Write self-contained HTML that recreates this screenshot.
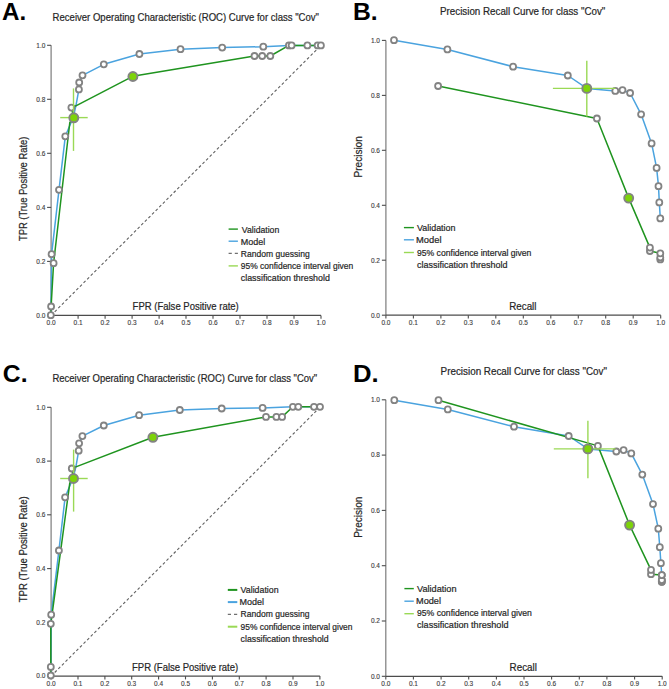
<!DOCTYPE html>
<html><head><meta charset="utf-8"><style>
html,body{margin:0;padding:0;background:#fff;width:669px;height:689px;overflow:hidden}
svg{display:block;font-family:"Liberation Sans", sans-serif}
</style></head><body>
<svg width="669" height="689" viewBox="0 0 669 689">
<rect width="669" height="689" fill="#fff"/>
<text id="t0" x="2.00" y="19.70" font-size="23.7" fill="#000" text-anchor="start" font-weight="bold" textLength="24.19" lengthAdjust="spacingAndGlyphs">A.</text>
<text id="t1" x="52.60" y="21.10" font-size="10.0" fill="#262626" text-anchor="start" font-weight="normal" textLength="266.34" lengthAdjust="spacingAndGlyphs" stroke="#262626" stroke-width="0.2">Receiver Operating Characteristic (ROC) Curve for class &quot;Cov&quot;</text>
<line x1="51.1" y1="315.4" x2="51.1" y2="45.3" stroke="#7c7c7c" stroke-width="1.2"/>
<line x1="47.1" y1="315.4" x2="51.1" y2="315.4" stroke="#4c4c4c" stroke-width="1.1"/>
<text id="t2" x="45.40" y="317.70" font-size="6.5" fill="#3c3c3c" text-anchor="end" font-weight="normal" stroke="#3c3c3c" stroke-width="0.12">0.0</text>
<line x1="47.1" y1="261.4" x2="51.1" y2="261.4" stroke="#4c4c4c" stroke-width="1.1"/>
<text id="t3" x="45.40" y="263.68" font-size="6.5" fill="#3c3c3c" text-anchor="end" font-weight="normal" stroke="#3c3c3c" stroke-width="0.12">0.2</text>
<line x1="47.1" y1="207.4" x2="51.1" y2="207.4" stroke="#4c4c4c" stroke-width="1.1"/>
<text id="t4" x="45.40" y="209.66" font-size="6.5" fill="#3c3c3c" text-anchor="end" font-weight="normal" stroke="#3c3c3c" stroke-width="0.12">0.4</text>
<line x1="47.1" y1="153.3" x2="51.1" y2="153.3" stroke="#4c4c4c" stroke-width="1.1"/>
<text id="t5" x="45.40" y="155.64" font-size="6.5" fill="#3c3c3c" text-anchor="end" font-weight="normal" stroke="#3c3c3c" stroke-width="0.12">0.6</text>
<line x1="47.1" y1="99.3" x2="51.1" y2="99.3" stroke="#4c4c4c" stroke-width="1.1"/>
<text id="t6" x="45.40" y="101.62" font-size="6.5" fill="#3c3c3c" text-anchor="end" font-weight="normal" stroke="#3c3c3c" stroke-width="0.12">0.8</text>
<line x1="47.1" y1="45.3" x2="51.1" y2="45.3" stroke="#4c4c4c" stroke-width="1.1"/>
<text id="t7" x="45.40" y="47.60" font-size="6.5" fill="#3c3c3c" text-anchor="end" font-weight="normal" stroke="#3c3c3c" stroke-width="0.12">1.0</text>
<line x1="51.1" y1="315.4" x2="321.0" y2="315.4" stroke="#4c4c4c" stroke-width="1.2"/>
<line x1="51.1" y1="315.4" x2="51.1" y2="318.7" stroke="#4c4c4c" stroke-width="1.1"/>
<text id="t8" x="51.10" y="325.20" font-size="6.5" fill="#3c3c3c" text-anchor="middle" font-weight="normal" stroke="#3c3c3c" stroke-width="0.12">0.0</text>
<line x1="78.1" y1="315.4" x2="78.1" y2="318.7" stroke="#4c4c4c" stroke-width="1.1"/>
<text id="t9" x="78.09" y="325.20" font-size="6.5" fill="#3c3c3c" text-anchor="middle" font-weight="normal" stroke="#3c3c3c" stroke-width="0.12">0.1</text>
<line x1="105.1" y1="315.4" x2="105.1" y2="318.7" stroke="#4c4c4c" stroke-width="1.1"/>
<text id="t10" x="105.08" y="325.20" font-size="6.5" fill="#3c3c3c" text-anchor="middle" font-weight="normal" stroke="#3c3c3c" stroke-width="0.12">0.2</text>
<line x1="132.1" y1="315.4" x2="132.1" y2="318.7" stroke="#4c4c4c" stroke-width="1.1"/>
<text id="t11" x="132.07" y="325.20" font-size="6.5" fill="#3c3c3c" text-anchor="middle" font-weight="normal" stroke="#3c3c3c" stroke-width="0.12">0.3</text>
<line x1="159.1" y1="315.4" x2="159.1" y2="318.7" stroke="#4c4c4c" stroke-width="1.1"/>
<text id="t12" x="159.06" y="325.20" font-size="6.5" fill="#3c3c3c" text-anchor="middle" font-weight="normal" stroke="#3c3c3c" stroke-width="0.12">0.4</text>
<line x1="186.0" y1="315.4" x2="186.0" y2="318.7" stroke="#4c4c4c" stroke-width="1.1"/>
<text id="t13" x="186.05" y="325.20" font-size="6.5" fill="#3c3c3c" text-anchor="middle" font-weight="normal" stroke="#3c3c3c" stroke-width="0.12">0.5</text>
<line x1="213.0" y1="315.4" x2="213.0" y2="318.7" stroke="#4c4c4c" stroke-width="1.1"/>
<text id="t14" x="213.04" y="325.20" font-size="6.5" fill="#3c3c3c" text-anchor="middle" font-weight="normal" stroke="#3c3c3c" stroke-width="0.12">0.6</text>
<line x1="240.0" y1="315.4" x2="240.0" y2="318.7" stroke="#4c4c4c" stroke-width="1.1"/>
<text id="t15" x="240.03" y="325.20" font-size="6.5" fill="#3c3c3c" text-anchor="middle" font-weight="normal" stroke="#3c3c3c" stroke-width="0.12">0.7</text>
<line x1="267.0" y1="315.4" x2="267.0" y2="318.7" stroke="#4c4c4c" stroke-width="1.1"/>
<text id="t16" x="267.02" y="325.20" font-size="6.5" fill="#3c3c3c" text-anchor="middle" font-weight="normal" stroke="#3c3c3c" stroke-width="0.12">0.8</text>
<line x1="294.0" y1="315.4" x2="294.0" y2="318.7" stroke="#4c4c4c" stroke-width="1.1"/>
<text id="t17" x="294.01" y="325.20" font-size="6.5" fill="#3c3c3c" text-anchor="middle" font-weight="normal" stroke="#3c3c3c" stroke-width="0.12">0.9</text>
<line x1="321.0" y1="315.4" x2="321.0" y2="318.7" stroke="#4c4c4c" stroke-width="1.1"/>
<text id="t18" x="321.00" y="325.20" font-size="6.5" fill="#3c3c3c" text-anchor="middle" font-weight="normal" stroke="#3c3c3c" stroke-width="0.12">1.0</text>
<text id="t19" x="132.60" y="310.10" font-size="10.0" fill="#262626" text-anchor="start" font-weight="normal" textLength="106.20" lengthAdjust="spacingAndGlyphs" stroke="#262626" stroke-width="0.2">FPR (False Positive rate)</text>
<text id="t20" x="26.60" y="241.00" font-size="10.0" fill="#262626" text-anchor="start" font-weight="normal" textLength="104.33" lengthAdjust="spacingAndGlyphs" stroke="#262626" stroke-width="0.2" transform="rotate(-90 26.60 241.00)">TPR (True Positive Rate)</text>
<line x1="51.1" y1="315.4" x2="321" y2="45.3" stroke="#606060" stroke-width="1.1" stroke-dasharray="2.8,2.3"/>
<polyline points="50.8,315.2 51.1,306.5 51.6,254.2 59.0,189.8 65.3,136.3 73.1,117.8 75.9,105.8 78.9,89.4 79.2,82.5 82.5,75.3 103.8,64.3 139.4,54.0 180.5,49.2 222.2,47.6 263.3,46.7 288.9,45.4 291.6,45.4 307.4,45.4 317.6,45.4 320.9,45.4" fill="none" stroke="#4aa3df" stroke-width="1.5" stroke-linejoin="round"/>
<polyline points="50.8,315.2 51.1,306.5 53.6,263.2 69.8,122.5 73.8,117.8 71.4,107.6 75.9,105.8 132.7,76.3 254.5,56.0 262.2,56.0 270.3,56.0 288.9,45.4 291.6,45.4 307.4,45.4 317.6,45.4 320.9,45.4" fill="none" stroke="#1f941f" stroke-width="1.5" stroke-linejoin="round"/>
<circle cx="50.8" cy="315.2" r="3.0" fill="#fff" stroke="#838383" stroke-width="1.8"/>
<circle cx="51.1" cy="306.5" r="3.0" fill="#fff" stroke="#838383" stroke-width="1.8"/>
<circle cx="51.6" cy="254.2" r="3.0" fill="#fff" stroke="#838383" stroke-width="1.8"/>
<circle cx="53.6" cy="263.2" r="3.0" fill="#fff" stroke="#838383" stroke-width="1.8"/>
<circle cx="59.0" cy="189.8" r="3.0" fill="#fff" stroke="#838383" stroke-width="1.8"/>
<circle cx="65.3" cy="136.3" r="3.0" fill="#fff" stroke="#838383" stroke-width="1.8"/>
<circle cx="71.4" cy="107.6" r="3.0" fill="#fff" stroke="#838383" stroke-width="1.8"/>
<circle cx="78.9" cy="89.4" r="3.0" fill="#fff" stroke="#838383" stroke-width="1.8"/>
<circle cx="79.2" cy="82.5" r="3.0" fill="#fff" stroke="#838383" stroke-width="1.8"/>
<circle cx="82.5" cy="75.3" r="3.0" fill="#fff" stroke="#838383" stroke-width="1.8"/>
<circle cx="103.8" cy="64.3" r="3.0" fill="#fff" stroke="#838383" stroke-width="1.8"/>
<circle cx="139.4" cy="54.0" r="3.0" fill="#fff" stroke="#838383" stroke-width="1.8"/>
<circle cx="180.5" cy="49.2" r="3.0" fill="#fff" stroke="#838383" stroke-width="1.8"/>
<circle cx="222.2" cy="47.6" r="3.0" fill="#fff" stroke="#838383" stroke-width="1.8"/>
<circle cx="263.3" cy="46.7" r="3.0" fill="#fff" stroke="#838383" stroke-width="1.8"/>
<circle cx="254.5" cy="56.0" r="3.0" fill="#fff" stroke="#838383" stroke-width="1.8"/>
<circle cx="262.2" cy="56.0" r="3.0" fill="#fff" stroke="#838383" stroke-width="1.8"/>
<circle cx="270.3" cy="56.0" r="3.0" fill="#fff" stroke="#838383" stroke-width="1.8"/>
<circle cx="288.9" cy="45.4" r="3.0" fill="#fff" stroke="#838383" stroke-width="1.8"/>
<circle cx="291.6" cy="45.4" r="3.0" fill="#fff" stroke="#838383" stroke-width="1.8"/>
<circle cx="307.4" cy="45.4" r="3.0" fill="#fff" stroke="#838383" stroke-width="1.8"/>
<circle cx="317.6" cy="45.4" r="3.0" fill="#fff" stroke="#838383" stroke-width="1.8"/>
<circle cx="320.9" cy="45.4" r="3.0" fill="#fff" stroke="#838383" stroke-width="1.8"/>
<line x1="60.2" y1="117.6" x2="87.7" y2="117.6" stroke="#9ad955" stroke-width="1.4"/>
<line x1="73.5" y1="88.4" x2="73.5" y2="150.9" stroke="#9ad955" stroke-width="1.4"/>
<circle cx="73.8" cy="117.8" r="4.5" fill="#7dd30a" stroke="#838383" stroke-width="1.9"/>
<circle cx="132.9" cy="76.5" r="4.5" fill="#7dd30a" stroke="#838383" stroke-width="1.9"/>
<line x1="228.6" y1="229.1" x2="237.9" y2="229.1" stroke="#1f941f" stroke-width="1.4"/>
<line x1="228.6" y1="241.2" x2="237.9" y2="241.2" stroke="#4aa3df" stroke-width="1.4"/>
<line x1="228.6" y1="253.4" x2="237.9" y2="253.4" stroke="#707070" stroke-width="1.4" stroke-dasharray="3.2,3"/>
<line x1="228.6" y1="265.9" x2="237.9" y2="265.9" stroke="#9ad955" stroke-width="1.4"/>
<text id="t21" x="241.80" y="232.70" font-size="8.8" fill="#262626" text-anchor="start" font-weight="normal" textLength="37.48" lengthAdjust="spacingAndGlyphs" stroke="#262626" stroke-width="0.2">Validation</text>
<text id="t22" x="240.80" y="244.70" font-size="8.8" fill="#262626" text-anchor="start" font-weight="normal" textLength="24.47" lengthAdjust="spacingAndGlyphs" stroke="#262626" stroke-width="0.2">Model</text>
<text id="t23" x="240.80" y="256.80" font-size="8.8" fill="#262626" text-anchor="start" font-weight="normal" textLength="68.92" lengthAdjust="spacingAndGlyphs" stroke="#262626" stroke-width="0.2">Random guessing</text>
<text id="t24" x="240.80" y="268.80" font-size="8.8" fill="#262626" text-anchor="start" font-weight="normal" textLength="112.39" lengthAdjust="spacingAndGlyphs" stroke="#262626" stroke-width="0.2">95% confidence interval given</text>
<text id="t25" x="240.80" y="281.30" font-size="8.8" fill="#262626" text-anchor="start" font-weight="normal" textLength="89.02" lengthAdjust="spacingAndGlyphs" stroke="#262626" stroke-width="0.2">classification threshold</text>
<text id="t26" x="353.00" y="20.20" font-size="23.7" fill="#000" text-anchor="start" font-weight="bold" textLength="24.69" lengthAdjust="spacingAndGlyphs">B.</text>
<text id="t27" x="440.00" y="15.20" font-size="10.0" fill="#262626" text-anchor="start" font-weight="normal" textLength="165.33" lengthAdjust="spacingAndGlyphs" stroke="#262626" stroke-width="0.2">Precision Recall Curve for class &quot;Cov&quot;</text>
<line x1="385.9" y1="315.2" x2="385.9" y2="40.4" stroke="#7c7c7c" stroke-width="1.2"/>
<line x1="381.9" y1="315.2" x2="385.9" y2="315.2" stroke="#4c4c4c" stroke-width="1.1"/>
<text id="t28" x="380.00" y="317.50" font-size="6.5" fill="#3c3c3c" text-anchor="end" font-weight="normal" stroke="#3c3c3c" stroke-width="0.12">0.0</text>
<line x1="381.9" y1="260.2" x2="385.9" y2="260.2" stroke="#4c4c4c" stroke-width="1.1"/>
<text id="t29" x="380.00" y="262.54" font-size="6.5" fill="#3c3c3c" text-anchor="end" font-weight="normal" stroke="#3c3c3c" stroke-width="0.12">0.2</text>
<line x1="381.9" y1="205.3" x2="385.9" y2="205.3" stroke="#4c4c4c" stroke-width="1.1"/>
<text id="t30" x="380.00" y="207.58" font-size="6.5" fill="#3c3c3c" text-anchor="end" font-weight="normal" stroke="#3c3c3c" stroke-width="0.12">0.4</text>
<line x1="381.9" y1="150.3" x2="385.9" y2="150.3" stroke="#4c4c4c" stroke-width="1.1"/>
<text id="t31" x="380.00" y="152.62" font-size="6.5" fill="#3c3c3c" text-anchor="end" font-weight="normal" stroke="#3c3c3c" stroke-width="0.12">0.6</text>
<line x1="381.9" y1="95.4" x2="385.9" y2="95.4" stroke="#4c4c4c" stroke-width="1.1"/>
<text id="t32" x="380.00" y="97.66" font-size="6.5" fill="#3c3c3c" text-anchor="end" font-weight="normal" stroke="#3c3c3c" stroke-width="0.12">0.8</text>
<line x1="381.9" y1="40.4" x2="385.9" y2="40.4" stroke="#4c4c4c" stroke-width="1.1"/>
<text id="t33" x="380.00" y="42.70" font-size="6.5" fill="#3c3c3c" text-anchor="end" font-weight="normal" stroke="#3c3c3c" stroke-width="0.12">1.0</text>
<line x1="385.9" y1="315.2" x2="660.7" y2="315.2" stroke="#4c4c4c" stroke-width="1.2"/>
<line x1="385.9" y1="315.2" x2="385.9" y2="318.5" stroke="#4c4c4c" stroke-width="1.1"/>
<text id="t34" x="385.90" y="325.00" font-size="6.5" fill="#3c3c3c" text-anchor="middle" font-weight="normal" stroke="#3c3c3c" stroke-width="0.12">0.0</text>
<line x1="413.4" y1="315.2" x2="413.4" y2="318.5" stroke="#4c4c4c" stroke-width="1.1"/>
<text id="t35" x="413.38" y="325.00" font-size="6.5" fill="#3c3c3c" text-anchor="middle" font-weight="normal" stroke="#3c3c3c" stroke-width="0.12">0.1</text>
<line x1="440.9" y1="315.2" x2="440.9" y2="318.5" stroke="#4c4c4c" stroke-width="1.1"/>
<text id="t36" x="440.86" y="325.00" font-size="6.5" fill="#3c3c3c" text-anchor="middle" font-weight="normal" stroke="#3c3c3c" stroke-width="0.12">0.2</text>
<line x1="468.3" y1="315.2" x2="468.3" y2="318.5" stroke="#4c4c4c" stroke-width="1.1"/>
<text id="t37" x="468.34" y="325.00" font-size="6.5" fill="#3c3c3c" text-anchor="middle" font-weight="normal" stroke="#3c3c3c" stroke-width="0.12">0.3</text>
<line x1="495.8" y1="315.2" x2="495.8" y2="318.5" stroke="#4c4c4c" stroke-width="1.1"/>
<text id="t38" x="495.82" y="325.00" font-size="6.5" fill="#3c3c3c" text-anchor="middle" font-weight="normal" stroke="#3c3c3c" stroke-width="0.12">0.4</text>
<line x1="523.3" y1="315.2" x2="523.3" y2="318.5" stroke="#4c4c4c" stroke-width="1.1"/>
<text id="t39" x="523.30" y="325.00" font-size="6.5" fill="#3c3c3c" text-anchor="middle" font-weight="normal" stroke="#3c3c3c" stroke-width="0.12">0.5</text>
<line x1="550.8" y1="315.2" x2="550.8" y2="318.5" stroke="#4c4c4c" stroke-width="1.1"/>
<text id="t40" x="550.78" y="325.00" font-size="6.5" fill="#3c3c3c" text-anchor="middle" font-weight="normal" stroke="#3c3c3c" stroke-width="0.12">0.6</text>
<line x1="578.3" y1="315.2" x2="578.3" y2="318.5" stroke="#4c4c4c" stroke-width="1.1"/>
<text id="t41" x="578.26" y="325.00" font-size="6.5" fill="#3c3c3c" text-anchor="middle" font-weight="normal" stroke="#3c3c3c" stroke-width="0.12">0.7</text>
<line x1="605.7" y1="315.2" x2="605.7" y2="318.5" stroke="#4c4c4c" stroke-width="1.1"/>
<text id="t42" x="605.74" y="325.00" font-size="6.5" fill="#3c3c3c" text-anchor="middle" font-weight="normal" stroke="#3c3c3c" stroke-width="0.12">0.8</text>
<line x1="633.2" y1="315.2" x2="633.2" y2="318.5" stroke="#4c4c4c" stroke-width="1.1"/>
<text id="t43" x="633.22" y="325.00" font-size="6.5" fill="#3c3c3c" text-anchor="middle" font-weight="normal" stroke="#3c3c3c" stroke-width="0.12">0.9</text>
<line x1="660.7" y1="315.2" x2="660.7" y2="318.5" stroke="#4c4c4c" stroke-width="1.1"/>
<text id="t44" x="660.70" y="325.00" font-size="6.5" fill="#3c3c3c" text-anchor="middle" font-weight="normal" stroke="#3c3c3c" stroke-width="0.12">1.0</text>
<text id="t45" x="509.20" y="309.90" font-size="10.0" fill="#262626" text-anchor="start" font-weight="normal" textLength="27.30" lengthAdjust="spacingAndGlyphs" stroke="#262626" stroke-width="0.2">Recall</text>
<text id="t46" x="361.80" y="177.40" font-size="10.0" fill="#262626" text-anchor="start" font-weight="normal" textLength="41.14" lengthAdjust="spacingAndGlyphs" stroke="#262626" stroke-width="0.2" transform="rotate(-90 361.80 177.40)">Precision</text>
<polyline points="394.0,40.2 447.4,49.4 513.1,66.7 567.8,75.5 586.8,88.4 615.3,90.9 622.5,90.1 630.1,93.0 641.1,114.3 651.6,143.4 656.6,167.9 658.5,186.2 659.3,202.4 660.3,218.4" fill="none" stroke="#4aa3df" stroke-width="1.5" stroke-linejoin="round"/>
<polyline points="438.1,86.0 596.9,118.5 628.7,198.1 649.9,247.6 649.9,251.0 660.3,253.3 660.3,257.5 660.3,259.4" fill="none" stroke="#1f941f" stroke-width="1.5" stroke-linejoin="round"/>
<circle cx="660.3" cy="259.4" r="3.0" fill="#fff" stroke="#838383" stroke-width="1.8"/>
<circle cx="660.3" cy="257.5" r="3.0" fill="#fff" stroke="#838383" stroke-width="1.8"/>
<circle cx="660.3" cy="253.3" r="3.0" fill="#fff" stroke="#838383" stroke-width="1.8"/>
<circle cx="649.9" cy="251.0" r="3.0" fill="#fff" stroke="#838383" stroke-width="1.8"/>
<circle cx="649.9" cy="247.6" r="3.0" fill="#fff" stroke="#838383" stroke-width="1.8"/>
<circle cx="660.3" cy="218.4" r="3.0" fill="#fff" stroke="#838383" stroke-width="1.8"/>
<circle cx="659.3" cy="202.4" r="3.0" fill="#fff" stroke="#838383" stroke-width="1.8"/>
<circle cx="658.5" cy="186.2" r="3.0" fill="#fff" stroke="#838383" stroke-width="1.8"/>
<circle cx="656.6" cy="167.9" r="3.0" fill="#fff" stroke="#838383" stroke-width="1.8"/>
<circle cx="651.6" cy="143.4" r="3.0" fill="#fff" stroke="#838383" stroke-width="1.8"/>
<circle cx="596.9" cy="118.5" r="3.0" fill="#fff" stroke="#838383" stroke-width="1.8"/>
<circle cx="641.1" cy="114.3" r="3.0" fill="#fff" stroke="#838383" stroke-width="1.8"/>
<circle cx="630.1" cy="93.0" r="3.0" fill="#fff" stroke="#838383" stroke-width="1.8"/>
<circle cx="615.3" cy="90.9" r="3.0" fill="#fff" stroke="#838383" stroke-width="1.8"/>
<circle cx="622.5" cy="90.1" r="3.0" fill="#fff" stroke="#838383" stroke-width="1.8"/>
<circle cx="438.1" cy="86.0" r="3.0" fill="#fff" stroke="#838383" stroke-width="1.8"/>
<circle cx="567.8" cy="75.5" r="3.0" fill="#fff" stroke="#838383" stroke-width="1.8"/>
<circle cx="513.1" cy="66.7" r="3.0" fill="#fff" stroke="#838383" stroke-width="1.8"/>
<circle cx="447.4" cy="49.4" r="3.0" fill="#fff" stroke="#838383" stroke-width="1.8"/>
<circle cx="394.0" cy="40.2" r="3.0" fill="#fff" stroke="#838383" stroke-width="1.8"/>
<line x1="552.9" y1="88.4" x2="615.4" y2="88.4" stroke="#9ad955" stroke-width="1.4"/>
<line x1="586.8" y1="60.8" x2="586.8" y2="116.4" stroke="#9ad955" stroke-width="1.4"/>
<circle cx="586.8" cy="88.4" r="4.5" fill="#7dd30a" stroke="#838383" stroke-width="1.9"/>
<circle cx="628.7" cy="198.1" r="4.5" fill="#7dd30a" stroke="#838383" stroke-width="1.9"/>
<line x1="403.9" y1="227.6" x2="413.9" y2="227.6" stroke="#1f941f" stroke-width="1.4"/>
<line x1="403.9" y1="239.8" x2="413.9" y2="239.8" stroke="#4aa3df" stroke-width="1.4"/>
<line x1="403.9" y1="252.5" x2="413.9" y2="252.5" stroke="#9ad955" stroke-width="1.4"/>
<text id="t47" x="417.00" y="230.80" font-size="8.8" fill="#262626" text-anchor="start" font-weight="normal" textLength="38.48" lengthAdjust="spacingAndGlyphs" stroke="#262626" stroke-width="0.2">Validation</text>
<text id="t48" x="416.00" y="243.30" font-size="8.8" fill="#262626" text-anchor="start" font-weight="normal" textLength="25.47" lengthAdjust="spacingAndGlyphs" stroke="#262626" stroke-width="0.2">Model</text>
<text id="t49" x="417.00" y="255.80" font-size="8.8" fill="#262626" text-anchor="start" font-weight="normal" textLength="114.39" lengthAdjust="spacingAndGlyphs" stroke="#262626" stroke-width="0.2">95% confidence interval given</text>
<text id="t50" x="417.00" y="267.70" font-size="8.8" fill="#262626" text-anchor="start" font-weight="normal" textLength="90.52" lengthAdjust="spacingAndGlyphs" stroke="#262626" stroke-width="0.2">classification threshold</text>
<text id="t51" x="2.80" y="382.30" font-size="23.7" fill="#000" text-anchor="start" font-weight="bold" textLength="24.69" lengthAdjust="spacingAndGlyphs">C.</text>
<text id="t52" x="52.40" y="381.90" font-size="10.0" fill="#262626" text-anchor="start" font-weight="normal" textLength="264.84" lengthAdjust="spacingAndGlyphs" stroke="#262626" stroke-width="0.2">Receiver Operating Characteristic (ROC) Curve for class &quot;Cov&quot;</text>
<line x1="51.1" y1="676.1" x2="51.1" y2="407.3" stroke="#7c7c7c" stroke-width="1.2"/>
<line x1="47.1" y1="676.1" x2="51.1" y2="676.1" stroke="#4c4c4c" stroke-width="1.1"/>
<text id="t53" x="45.40" y="678.40" font-size="6.5" fill="#3c3c3c" text-anchor="end" font-weight="normal" stroke="#3c3c3c" stroke-width="0.12">0.0</text>
<line x1="47.1" y1="622.3" x2="51.1" y2="622.3" stroke="#4c4c4c" stroke-width="1.1"/>
<text id="t54" x="45.40" y="624.64" font-size="6.5" fill="#3c3c3c" text-anchor="end" font-weight="normal" stroke="#3c3c3c" stroke-width="0.12">0.2</text>
<line x1="47.1" y1="568.6" x2="51.1" y2="568.6" stroke="#4c4c4c" stroke-width="1.1"/>
<text id="t55" x="45.40" y="570.88" font-size="6.5" fill="#3c3c3c" text-anchor="end" font-weight="normal" stroke="#3c3c3c" stroke-width="0.12">0.4</text>
<line x1="47.1" y1="514.8" x2="51.1" y2="514.8" stroke="#4c4c4c" stroke-width="1.1"/>
<text id="t56" x="45.40" y="517.12" font-size="6.5" fill="#3c3c3c" text-anchor="end" font-weight="normal" stroke="#3c3c3c" stroke-width="0.12">0.6</text>
<line x1="47.1" y1="461.1" x2="51.1" y2="461.1" stroke="#4c4c4c" stroke-width="1.1"/>
<text id="t57" x="45.40" y="463.36" font-size="6.5" fill="#3c3c3c" text-anchor="end" font-weight="normal" stroke="#3c3c3c" stroke-width="0.12">0.8</text>
<line x1="47.1" y1="407.3" x2="51.1" y2="407.3" stroke="#4c4c4c" stroke-width="1.1"/>
<text id="t58" x="45.40" y="409.60" font-size="6.5" fill="#3c3c3c" text-anchor="end" font-weight="normal" stroke="#3c3c3c" stroke-width="0.12">1.0</text>
<line x1="51.1" y1="676.1" x2="319.9" y2="676.1" stroke="#4c4c4c" stroke-width="1.2"/>
<line x1="51.1" y1="676.1" x2="51.1" y2="679.4" stroke="#4c4c4c" stroke-width="1.1"/>
<text id="t59" x="51.10" y="685.50" font-size="6.5" fill="#3c3c3c" text-anchor="middle" font-weight="normal" stroke="#3c3c3c" stroke-width="0.12">0.0</text>
<line x1="78.0" y1="676.1" x2="78.0" y2="679.4" stroke="#4c4c4c" stroke-width="1.1"/>
<text id="t60" x="77.98" y="685.50" font-size="6.5" fill="#3c3c3c" text-anchor="middle" font-weight="normal" stroke="#3c3c3c" stroke-width="0.12">0.1</text>
<line x1="104.9" y1="676.1" x2="104.9" y2="679.4" stroke="#4c4c4c" stroke-width="1.1"/>
<text id="t61" x="104.86" y="685.50" font-size="6.5" fill="#3c3c3c" text-anchor="middle" font-weight="normal" stroke="#3c3c3c" stroke-width="0.12">0.2</text>
<line x1="131.7" y1="676.1" x2="131.7" y2="679.4" stroke="#4c4c4c" stroke-width="1.1"/>
<text id="t62" x="131.74" y="685.50" font-size="6.5" fill="#3c3c3c" text-anchor="middle" font-weight="normal" stroke="#3c3c3c" stroke-width="0.12">0.3</text>
<line x1="158.6" y1="676.1" x2="158.6" y2="679.4" stroke="#4c4c4c" stroke-width="1.1"/>
<text id="t63" x="158.62" y="685.50" font-size="6.5" fill="#3c3c3c" text-anchor="middle" font-weight="normal" stroke="#3c3c3c" stroke-width="0.12">0.4</text>
<line x1="185.5" y1="676.1" x2="185.5" y2="679.4" stroke="#4c4c4c" stroke-width="1.1"/>
<text id="t64" x="185.50" y="685.50" font-size="6.5" fill="#3c3c3c" text-anchor="middle" font-weight="normal" stroke="#3c3c3c" stroke-width="0.12">0.5</text>
<line x1="212.4" y1="676.1" x2="212.4" y2="679.4" stroke="#4c4c4c" stroke-width="1.1"/>
<text id="t65" x="212.38" y="685.50" font-size="6.5" fill="#3c3c3c" text-anchor="middle" font-weight="normal" stroke="#3c3c3c" stroke-width="0.12">0.6</text>
<line x1="239.3" y1="676.1" x2="239.3" y2="679.4" stroke="#4c4c4c" stroke-width="1.1"/>
<text id="t66" x="239.26" y="685.50" font-size="6.5" fill="#3c3c3c" text-anchor="middle" font-weight="normal" stroke="#3c3c3c" stroke-width="0.12">0.7</text>
<line x1="266.1" y1="676.1" x2="266.1" y2="679.4" stroke="#4c4c4c" stroke-width="1.1"/>
<text id="t67" x="266.14" y="685.50" font-size="6.5" fill="#3c3c3c" text-anchor="middle" font-weight="normal" stroke="#3c3c3c" stroke-width="0.12">0.8</text>
<line x1="293.0" y1="676.1" x2="293.0" y2="679.4" stroke="#4c4c4c" stroke-width="1.1"/>
<text id="t68" x="293.02" y="685.50" font-size="6.5" fill="#3c3c3c" text-anchor="middle" font-weight="normal" stroke="#3c3c3c" stroke-width="0.12">0.9</text>
<line x1="319.9" y1="676.1" x2="319.9" y2="679.4" stroke="#4c4c4c" stroke-width="1.1"/>
<text id="t69" x="319.90" y="685.50" font-size="6.5" fill="#3c3c3c" text-anchor="middle" font-weight="normal" stroke="#3c3c3c" stroke-width="0.12">1.0</text>
<text id="t70" x="132.00" y="670.80" font-size="10.0" fill="#262626" text-anchor="start" font-weight="normal" textLength="106.20" lengthAdjust="spacingAndGlyphs" stroke="#262626" stroke-width="0.2">FPR (False Positive rate)</text>
<text id="t71" x="26.80" y="602.20" font-size="10.0" fill="#262626" text-anchor="start" font-weight="normal" textLength="105.83" lengthAdjust="spacingAndGlyphs" stroke="#262626" stroke-width="0.2" transform="rotate(-90 26.80 602.20)">TPR (True Positive Rate)</text>
<line x1="51.1" y1="676.1" x2="319.9" y2="407.3" stroke="#606060" stroke-width="1.1" stroke-dasharray="2.8,2.3"/>
<polyline points="50.8,675.5 50.8,666.9 51.2,614.7 58.9,550.5 65.1,497.3 73.0,478.3 75.9,466.8 78.7,450.7 79.1,443.3 82.4,436.1 103.8,425.5 139.1,415.2 179.8,410.0 221.7,408.5 262.6,407.9 292.9,406.8 298.3,406.8 314.0,406.8 320.0,406.8" fill="none" stroke="#4aa3df" stroke-width="1.5" stroke-linejoin="round"/>
<polyline points="50.8,675.5 50.8,666.9 50.8,623.8 69.8,482.9 73.5,478.5 71.8,468.5 75.9,466.9 152.9,437.3 266.0,416.9 276.4,416.9 282.1,416.9 292.9,406.8 298.3,406.8 314.0,406.8 320.0,406.8" fill="none" stroke="#1f941f" stroke-width="1.5" stroke-linejoin="round"/>
<circle cx="50.8" cy="675.5" r="3.0" fill="#fff" stroke="#838383" stroke-width="1.8"/>
<circle cx="50.8" cy="666.9" r="3.0" fill="#fff" stroke="#838383" stroke-width="1.8"/>
<circle cx="51.2" cy="614.7" r="3.0" fill="#fff" stroke="#838383" stroke-width="1.8"/>
<circle cx="58.9" cy="550.5" r="3.0" fill="#fff" stroke="#838383" stroke-width="1.8"/>
<circle cx="65.1" cy="497.3" r="3.0" fill="#fff" stroke="#838383" stroke-width="1.8"/>
<circle cx="78.7" cy="450.7" r="3.0" fill="#fff" stroke="#838383" stroke-width="1.8"/>
<circle cx="79.1" cy="443.3" r="3.0" fill="#fff" stroke="#838383" stroke-width="1.8"/>
<circle cx="82.4" cy="436.1" r="3.0" fill="#fff" stroke="#838383" stroke-width="1.8"/>
<circle cx="103.8" cy="425.5" r="3.0" fill="#fff" stroke="#838383" stroke-width="1.8"/>
<circle cx="139.1" cy="415.2" r="3.0" fill="#fff" stroke="#838383" stroke-width="1.8"/>
<circle cx="179.8" cy="410.0" r="3.0" fill="#fff" stroke="#838383" stroke-width="1.8"/>
<circle cx="221.7" cy="408.5" r="3.0" fill="#fff" stroke="#838383" stroke-width="1.8"/>
<circle cx="262.6" cy="407.9" r="3.0" fill="#fff" stroke="#838383" stroke-width="1.8"/>
<circle cx="292.9" cy="406.8" r="3.0" fill="#fff" stroke="#838383" stroke-width="1.8"/>
<circle cx="298.3" cy="406.8" r="3.0" fill="#fff" stroke="#838383" stroke-width="1.8"/>
<circle cx="314.0" cy="406.8" r="3.0" fill="#fff" stroke="#838383" stroke-width="1.8"/>
<circle cx="320.0" cy="406.8" r="3.0" fill="#fff" stroke="#838383" stroke-width="1.8"/>
<circle cx="71.8" cy="468.5" r="3.0" fill="#fff" stroke="#838383" stroke-width="1.8"/>
<circle cx="50.8" cy="623.8" r="3.0" fill="#fff" stroke="#838383" stroke-width="1.8"/>
<circle cx="266.0" cy="416.9" r="3.0" fill="#fff" stroke="#838383" stroke-width="1.8"/>
<circle cx="276.4" cy="416.9" r="3.0" fill="#fff" stroke="#838383" stroke-width="1.8"/>
<circle cx="282.1" cy="416.9" r="3.0" fill="#fff" stroke="#838383" stroke-width="1.8"/>
<line x1="60.2" y1="478.5" x2="87.7" y2="478.5" stroke="#9ad955" stroke-width="1.4"/>
<line x1="73.6" y1="449.6" x2="73.6" y2="511.6" stroke="#9ad955" stroke-width="1.4"/>
<circle cx="73.5" cy="478.5" r="4.5" fill="#7dd30a" stroke="#838383" stroke-width="1.9"/>
<circle cx="152.9" cy="437.3" r="4.5" fill="#7dd30a" stroke="#838383" stroke-width="1.9"/>
<line x1="227.8" y1="589.9" x2="237.3" y2="589.9" stroke="#1f941f" stroke-width="2.0"/>
<line x1="227.8" y1="602.1" x2="237.3" y2="602.1" stroke="#4aa3df" stroke-width="2.0"/>
<line x1="227.8" y1="614.4" x2="237.3" y2="614.4" stroke="#707070" stroke-width="1.4" stroke-dasharray="3.2,3"/>
<line x1="227.8" y1="626.7" x2="237.3" y2="626.7" stroke="#9ad955" stroke-width="2.0"/>
<text id="t72" x="240.60" y="592.90" font-size="8.8" fill="#262626" text-anchor="start" font-weight="normal" textLength="37.98" lengthAdjust="spacingAndGlyphs" stroke="#262626" stroke-width="0.2">Validation</text>
<text id="t73" x="239.60" y="605.20" font-size="8.8" fill="#262626" text-anchor="start" font-weight="normal" textLength="24.47" lengthAdjust="spacingAndGlyphs" stroke="#262626" stroke-width="0.2">Model</text>
<text id="t74" x="240.60" y="617.40" font-size="8.8" fill="#262626" text-anchor="start" font-weight="normal" textLength="68.92" lengthAdjust="spacingAndGlyphs" stroke="#262626" stroke-width="0.2">Random guessing</text>
<text id="t75" x="240.60" y="629.70" font-size="8.8" fill="#262626" text-anchor="start" font-weight="normal" textLength="111.89" lengthAdjust="spacingAndGlyphs" stroke="#262626" stroke-width="0.2">95% confidence interval given</text>
<text id="t76" x="240.60" y="642.00" font-size="8.8" fill="#262626" text-anchor="start" font-weight="normal" textLength="88.02" lengthAdjust="spacingAndGlyphs" stroke="#262626" stroke-width="0.2">classification threshold</text>
<text id="t77" x="353.00" y="381.90" font-size="23.7" fill="#000" text-anchor="start" font-weight="bold" textLength="25.69" lengthAdjust="spacingAndGlyphs">D.</text>
<text id="t78" x="440.60" y="374.80" font-size="10.0" fill="#262626" text-anchor="start" font-weight="normal" textLength="166.33" lengthAdjust="spacingAndGlyphs" stroke="#262626" stroke-width="0.2">Precision Recall Curve for class &quot;Cov&quot;</text>
<line x1="385.8" y1="676.3" x2="385.8" y2="399.8" stroke="#7c7c7c" stroke-width="1.2"/>
<line x1="381.8" y1="676.3" x2="385.8" y2="676.3" stroke="#4c4c4c" stroke-width="1.1"/>
<text id="t79" x="380.00" y="678.60" font-size="6.5" fill="#3c3c3c" text-anchor="end" font-weight="normal" stroke="#3c3c3c" stroke-width="0.12">0.0</text>
<line x1="381.8" y1="621.0" x2="385.8" y2="621.0" stroke="#4c4c4c" stroke-width="1.1"/>
<text id="t80" x="380.00" y="623.30" font-size="6.5" fill="#3c3c3c" text-anchor="end" font-weight="normal" stroke="#3c3c3c" stroke-width="0.12">0.2</text>
<line x1="381.8" y1="565.7" x2="385.8" y2="565.7" stroke="#4c4c4c" stroke-width="1.1"/>
<text id="t81" x="380.00" y="568.00" font-size="6.5" fill="#3c3c3c" text-anchor="end" font-weight="normal" stroke="#3c3c3c" stroke-width="0.12">0.4</text>
<line x1="381.8" y1="510.4" x2="385.8" y2="510.4" stroke="#4c4c4c" stroke-width="1.1"/>
<text id="t82" x="380.00" y="512.70" font-size="6.5" fill="#3c3c3c" text-anchor="end" font-weight="normal" stroke="#3c3c3c" stroke-width="0.12">0.6</text>
<line x1="381.8" y1="455.1" x2="385.8" y2="455.1" stroke="#4c4c4c" stroke-width="1.1"/>
<text id="t83" x="380.00" y="457.40" font-size="6.5" fill="#3c3c3c" text-anchor="end" font-weight="normal" stroke="#3c3c3c" stroke-width="0.12">0.8</text>
<line x1="381.8" y1="399.8" x2="385.8" y2="399.8" stroke="#4c4c4c" stroke-width="1.1"/>
<text id="t84" x="380.00" y="402.10" font-size="6.5" fill="#3c3c3c" text-anchor="end" font-weight="normal" stroke="#3c3c3c" stroke-width="0.12">1.0</text>
<line x1="385.8" y1="676.3" x2="662.2" y2="676.3" stroke="#4c4c4c" stroke-width="1.2"/>
<line x1="385.8" y1="676.3" x2="385.8" y2="679.5999999999999" stroke="#4c4c4c" stroke-width="1.1"/>
<text id="t85" x="385.80" y="685.70" font-size="6.5" fill="#3c3c3c" text-anchor="middle" font-weight="normal" stroke="#3c3c3c" stroke-width="0.12">0.0</text>
<line x1="413.4" y1="676.3" x2="413.4" y2="679.5999999999999" stroke="#4c4c4c" stroke-width="1.1"/>
<text id="t86" x="413.44" y="685.70" font-size="6.5" fill="#3c3c3c" text-anchor="middle" font-weight="normal" stroke="#3c3c3c" stroke-width="0.12">0.1</text>
<line x1="441.1" y1="676.3" x2="441.1" y2="679.5999999999999" stroke="#4c4c4c" stroke-width="1.1"/>
<text id="t87" x="441.08" y="685.70" font-size="6.5" fill="#3c3c3c" text-anchor="middle" font-weight="normal" stroke="#3c3c3c" stroke-width="0.12">0.2</text>
<line x1="468.7" y1="676.3" x2="468.7" y2="679.5999999999999" stroke="#4c4c4c" stroke-width="1.1"/>
<text id="t88" x="468.72" y="685.70" font-size="6.5" fill="#3c3c3c" text-anchor="middle" font-weight="normal" stroke="#3c3c3c" stroke-width="0.12">0.3</text>
<line x1="496.4" y1="676.3" x2="496.4" y2="679.5999999999999" stroke="#4c4c4c" stroke-width="1.1"/>
<text id="t89" x="496.36" y="685.70" font-size="6.5" fill="#3c3c3c" text-anchor="middle" font-weight="normal" stroke="#3c3c3c" stroke-width="0.12">0.4</text>
<line x1="524.0" y1="676.3" x2="524.0" y2="679.5999999999999" stroke="#4c4c4c" stroke-width="1.1"/>
<text id="t90" x="524.00" y="685.70" font-size="6.5" fill="#3c3c3c" text-anchor="middle" font-weight="normal" stroke="#3c3c3c" stroke-width="0.12">0.5</text>
<line x1="551.6" y1="676.3" x2="551.6" y2="679.5999999999999" stroke="#4c4c4c" stroke-width="1.1"/>
<text id="t91" x="551.64" y="685.70" font-size="6.5" fill="#3c3c3c" text-anchor="middle" font-weight="normal" stroke="#3c3c3c" stroke-width="0.12">0.6</text>
<line x1="579.3" y1="676.3" x2="579.3" y2="679.5999999999999" stroke="#4c4c4c" stroke-width="1.1"/>
<text id="t92" x="579.28" y="685.70" font-size="6.5" fill="#3c3c3c" text-anchor="middle" font-weight="normal" stroke="#3c3c3c" stroke-width="0.12">0.7</text>
<line x1="606.9" y1="676.3" x2="606.9" y2="679.5999999999999" stroke="#4c4c4c" stroke-width="1.1"/>
<text id="t93" x="606.92" y="685.70" font-size="6.5" fill="#3c3c3c" text-anchor="middle" font-weight="normal" stroke="#3c3c3c" stroke-width="0.12">0.8</text>
<line x1="634.6" y1="676.3" x2="634.6" y2="679.5999999999999" stroke="#4c4c4c" stroke-width="1.1"/>
<text id="t94" x="634.56" y="685.70" font-size="6.5" fill="#3c3c3c" text-anchor="middle" font-weight="normal" stroke="#3c3c3c" stroke-width="0.12">0.9</text>
<line x1="662.2" y1="676.3" x2="662.2" y2="679.5999999999999" stroke="#4c4c4c" stroke-width="1.1"/>
<text id="t95" x="662.20" y="685.70" font-size="6.5" fill="#3c3c3c" text-anchor="middle" font-weight="normal" stroke="#3c3c3c" stroke-width="0.12">1.0</text>
<text id="t96" x="509.60" y="670.90" font-size="10.0" fill="#262626" text-anchor="start" font-weight="normal" textLength="27.30" lengthAdjust="spacingAndGlyphs" stroke="#262626" stroke-width="0.2">Recall</text>
<text id="t97" x="361.80" y="537.80" font-size="10.0" fill="#262626" text-anchor="start" font-weight="normal" textLength="41.14" lengthAdjust="spacingAndGlyphs" stroke="#262626" stroke-width="0.2" transform="rotate(-90 361.80 537.80)">Precision</text>
<polyline points="394.3,400.2 447.8,409.4 514.0,426.7 568.7,436.0 587.9,448.9 616.3,451.5 623.6,450.1 631.3,453.4 642.3,474.6 653.0,504.1 658.3,528.7 659.8,547.2 660.9,563.2 661.8,575.1 661.8,580.1 661.8,581.8" fill="none" stroke="#4aa3df" stroke-width="1.5" stroke-linejoin="round"/>
<polyline points="438.5,400.2 597.9,445.9 629.6,525.1 651.0,569.9 651.0,574.2 661.8,575.1 661.8,580.1 661.8,581.8" fill="none" stroke="#1f941f" stroke-width="1.5" stroke-linejoin="round"/>
<circle cx="661.8" cy="581.8" r="3.0" fill="#fff" stroke="#838383" stroke-width="1.8"/>
<circle cx="661.8" cy="581.8" r="3.0" fill="#fff" stroke="#838383" stroke-width="1.8"/>
<circle cx="661.8" cy="580.1" r="3.0" fill="#fff" stroke="#838383" stroke-width="1.8"/>
<circle cx="661.8" cy="580.1" r="3.0" fill="#fff" stroke="#838383" stroke-width="1.8"/>
<circle cx="661.8" cy="575.1" r="3.0" fill="#fff" stroke="#838383" stroke-width="1.8"/>
<circle cx="661.8" cy="575.1" r="3.0" fill="#fff" stroke="#838383" stroke-width="1.8"/>
<circle cx="651.0" cy="574.2" r="3.0" fill="#fff" stroke="#838383" stroke-width="1.8"/>
<circle cx="651.0" cy="569.9" r="3.0" fill="#fff" stroke="#838383" stroke-width="1.8"/>
<circle cx="660.9" cy="563.2" r="3.0" fill="#fff" stroke="#838383" stroke-width="1.8"/>
<circle cx="659.8" cy="547.2" r="3.0" fill="#fff" stroke="#838383" stroke-width="1.8"/>
<circle cx="658.3" cy="528.7" r="3.0" fill="#fff" stroke="#838383" stroke-width="1.8"/>
<circle cx="653.0" cy="504.1" r="3.0" fill="#fff" stroke="#838383" stroke-width="1.8"/>
<circle cx="642.3" cy="474.6" r="3.0" fill="#fff" stroke="#838383" stroke-width="1.8"/>
<circle cx="631.3" cy="453.4" r="3.0" fill="#fff" stroke="#838383" stroke-width="1.8"/>
<circle cx="616.3" cy="451.5" r="3.0" fill="#fff" stroke="#838383" stroke-width="1.8"/>
<circle cx="623.6" cy="450.1" r="3.0" fill="#fff" stroke="#838383" stroke-width="1.8"/>
<circle cx="597.9" cy="445.9" r="3.0" fill="#fff" stroke="#838383" stroke-width="1.8"/>
<circle cx="568.7" cy="436.0" r="3.0" fill="#fff" stroke="#838383" stroke-width="1.8"/>
<circle cx="514.0" cy="426.7" r="3.0" fill="#fff" stroke="#838383" stroke-width="1.8"/>
<circle cx="447.8" cy="409.4" r="3.0" fill="#fff" stroke="#838383" stroke-width="1.8"/>
<circle cx="394.3" cy="400.2" r="3.0" fill="#fff" stroke="#838383" stroke-width="1.8"/>
<circle cx="438.5" cy="400.2" r="3.0" fill="#fff" stroke="#838383" stroke-width="1.8"/>
<line x1="553.8" y1="448.9" x2="615.4" y2="448.9" stroke="#9ad955" stroke-width="1.4"/>
<line x1="587.9" y1="420.8" x2="587.9" y2="478.2" stroke="#9ad955" stroke-width="1.4"/>
<circle cx="587.9" cy="448.9" r="4.5" fill="#7dd30a" stroke="#838383" stroke-width="1.9"/>
<circle cx="629.6" cy="525.1" r="4.5" fill="#7dd30a" stroke="#838383" stroke-width="1.9"/>
<line x1="404.4" y1="588.6" x2="413.8" y2="588.6" stroke="#1f941f" stroke-width="1.4"/>
<line x1="404.4" y1="601.2" x2="413.8" y2="601.2" stroke="#4aa3df" stroke-width="1.4"/>
<line x1="404.4" y1="613.7" x2="413.8" y2="613.7" stroke="#9ad955" stroke-width="1.4"/>
<text id="t98" x="417.00" y="591.70" font-size="8.8" fill="#262626" text-anchor="start" font-weight="normal" textLength="39.48" lengthAdjust="spacingAndGlyphs" stroke="#262626" stroke-width="0.2">Validation</text>
<text id="t99" x="416.00" y="603.90" font-size="8.8" fill="#262626" text-anchor="start" font-weight="normal" textLength="24.97" lengthAdjust="spacingAndGlyphs" stroke="#262626" stroke-width="0.2">Model</text>
<text id="t100" x="417.00" y="616.10" font-size="8.8" fill="#262626" text-anchor="start" font-weight="normal" textLength="114.89" lengthAdjust="spacingAndGlyphs" stroke="#262626" stroke-width="0.2">95% confidence interval given</text>
<text id="t101" x="417.00" y="628.30" font-size="8.8" fill="#262626" text-anchor="start" font-weight="normal" textLength="91.52" lengthAdjust="spacingAndGlyphs" stroke="#262626" stroke-width="0.2">classification threshold</text>
</svg>
</body></html>
